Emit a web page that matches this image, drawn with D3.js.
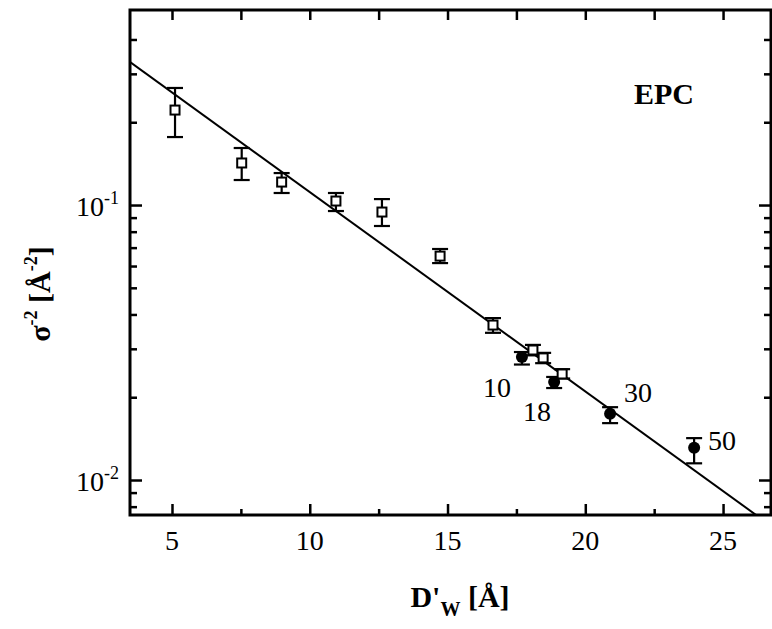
<!DOCTYPE html>
<html>
<head>
<meta charset="utf-8">
<script src="https://cdn.jsdelivr.net/npm/d3@7"></script>
<style>
  body { margin: 0; background: #fff; }
  svg { display: block; font-family: "Liberation Serif", "DejaVu Serif", serif; }
</style>
</head>
<body>
<div id="chart"></div>
<script>
// open squares
const sqX = [5.11, 7.53, 8.98, 10.95, 12.62, 14.73, 16.65, 18.10, 18.47, 19.16];
const sqY = [0.2215, 0.1422, 0.1212, 0.1034, 0.0943, 0.0652, 0.0366, 0.0297, 0.0278, 0.0243];
const sqLo = [0.1767, 0.1233, 0.1106, 0.0951, 0.0839, 0.0615, 0.0343, 0.0284, 0.0266, 0.0234];
const sqHi = [0.2665, 0.1612, 0.1307, 0.1106, 0.1051, 0.0692, 0.0388, 0.0310, 0.0290, 0.0253];

// filled circles
const dotX = [17.70, 18.87, 20.90, 23.95];
const dotY = [0.0280, 0.0227, 0.0174, 0.0131];
const dotLo = [0.0263, 0.0216, 0.0161, 0.0115];
const dotHi = [0.0292, 0.0237, 0.0184, 0.0142];
const dotLabels = ['10', '18', '30', '50'];

// fitted line end points
const fitX = [3.48, 26.2];
const fitY = [0.331, 0.00746];

const xTicks = [5, 10, 15, 20, 25];
const xTopTicks = [5, 7.5, 10, 12.5, 15, 17.5, 20, 22.5, 25];
const yMajor = [0.1, 0.01];
const yMinor = [0.4, 0.3, 0.2, 0.09, 0.08, 0.07, 0.06, 0.05, 0.04, 0.03, 0.02, 0.009, 0.008];

const W = 772, H = 629;
const L = 130, T = 10, R = 771, B = 515;

const svg = d3.select('#chart').append('svg')
  .attr('width', W).attr('height', H);

const x = d3.scaleLinear().domain([3.476, 26.74]).range([L, R]);
const y = d3.scaleLog().domain([0.00746, 0.512]).range([B, T]);

svg.append('clipPath').attr('id', 'clip')
  .append('rect').attr('x', L).attr('y', T).attr('width', R - L).attr('height', B - T);

// axes with inward ticks
svg.append('g')
  .attr('transform', `translate(0,${B})`)
  .call(d3.axisTop(x).tickValues(xTicks).tickSize(11).tickFormat(''))
  .call(g => g.select('.domain').remove());
svg.append('g')
  .attr('transform', `translate(0,${B})`)
  .call(d3.axisTop(x).tickValues([7.5, 12.5, 17.5, 22.5]).tickSize(6).tickFormat(''))
  .call(g => g.select('.domain').remove());
svg.append('g')
  .attr('transform', `translate(0,${T})`)
  .call(d3.axisBottom(x).tickValues(xTopTicks).tickSize(10).tickFormat(''))
  .call(g => g.select('.domain').remove());

[[L, d3.axisRight], [R, d3.axisLeft]].forEach(([pos, ax]) => {
  svg.append('g').attr('transform', `translate(${pos},0)`)
    .call(ax(y).tickValues(yMajor).tickSize(12).tickFormat(''))
    .call(g => g.select('.domain').remove());
  svg.append('g').attr('transform', `translate(${pos},0)`)
    .call(ax(y).tickValues(yMinor).tickSize(7).tickFormat(''))
    .call(g => g.select('.domain').remove());
});
svg.selectAll('.tick line').attr('stroke', '#000').attr('stroke-width', 2.5);

// frame
svg.append('rect')
  .attr('x', L).attr('y', T).attr('width', R - L).attr('height', B - T)
  .attr('fill', 'none').attr('stroke', '#000').attr('stroke-width', 3);

// x tick labels
svg.selectAll('.xlab').data(xTicks).enter().append('text')
  .attr('x', d => x(d)).attr('y', 550)
  .attr('text-anchor', 'middle')
  .style('font-size', '28px')
  .text(d => d);

// y tick labels
const yl = svg.selectAll('.ylab').data(yMajor).enter().append('text')
  .attr('x', 119).attr('y', d => y(d) + 11)
  .attr('text-anchor', 'end')
  .style('font-size', '28px');
yl.append('tspan').text('10');
yl.append('tspan').attr('dy', -12).style('font-size', '18px')
  .text(d => '-' + Math.round(-Math.log10(d)));

// fit line
svg.append('path')
  .datum(fitX.map((v, i) => [v, fitY[i]]))
  .attr('clip-path', 'url(#clip)')
  .attr('fill', 'none').attr('stroke', '#000').attr('stroke-width', 2)
  .attr('d', d3.line().x(d => x(d[0])).y(d => y(d[1])));

// error bars
function errBars(xs, lo, hi) {
  const g = svg.append('g').attr('stroke', '#000').attr('stroke-width', 2.2);
  xs.forEach((v, i) => {
    g.append('line').attr('x1', x(v)).attr('x2', x(v)).attr('y1', y(lo[i])).attr('y2', y(hi[i]));
    [lo[i], hi[i]].forEach(e => {
      g.append('line').attr('x1', x(v) - 8).attr('x2', x(v) + 8).attr('y1', y(e)).attr('y2', y(e));
    });
  });
}
errBars(sqX, sqLo, sqHi);
errBars(dotX, dotLo, dotHi);

svg.selectAll('.sq').data(sqX).enter().append('rect')
  .attr('x', d => x(d) - 4.5).attr('y', (d, i) => y(sqY[i]) - 4.5)
  .attr('width', 9).attr('height', 9)
  .attr('fill', '#fff').attr('stroke', '#000').attr('stroke-width', 2);

svg.selectAll('.dot').data(dotX).enter().append('circle')
  .attr('cx', d => x(d)).attr('cy', (d, i) => y(dotY[i]))
  .attr('r', 6).attr('fill', '#000');

// point labels
const labPos = [[497, 397], [537, 421], [638, 402], [722, 450]];
svg.selectAll('.plab').data(dotLabels).enter().append('text')
  .attr('x', (d, i) => labPos[i][0]).attr('y', (d, i) => labPos[i][1])
  .attr('text-anchor', 'middle')
  .style('font-size', '28px')
  .text(d => d);

svg.append('text')
  .attr('x', 664).attr('y', 104)
  .attr('text-anchor', 'middle')
  .style('font-size', '30px').style('font-weight', 'bold')
  .text('EPC');

// axis titles
const xt = svg.append('text')
  .attr('x', 460).attr('y', 607)
  .attr('text-anchor', 'middle')
  .style('font-size', '30px').style('font-weight', 'bold');
xt.append('tspan').text("D'");
xt.append('tspan').attr('dy', 9).style('font-size', '20px').text('W');
xt.append('tspan').attr('dy', -9).text(' [Å]');

const yt = svg.append('text')
  .attr('transform', 'translate(50,294) rotate(-90)')
  .attr('text-anchor', 'middle')
  .style('font-size', '30px').style('font-weight', 'bold');
yt.append('tspan').text('σ');
yt.append('tspan').attr('dy', -13).style('font-size', '18px').text('-2');
yt.append('tspan').attr('dy', 13).text(' [Å');
yt.append('tspan').attr('dy', -13).style('font-size', '18px').text('-2');
yt.append('tspan').attr('dy', 13).text(']');
</script>
</body>
</html>
